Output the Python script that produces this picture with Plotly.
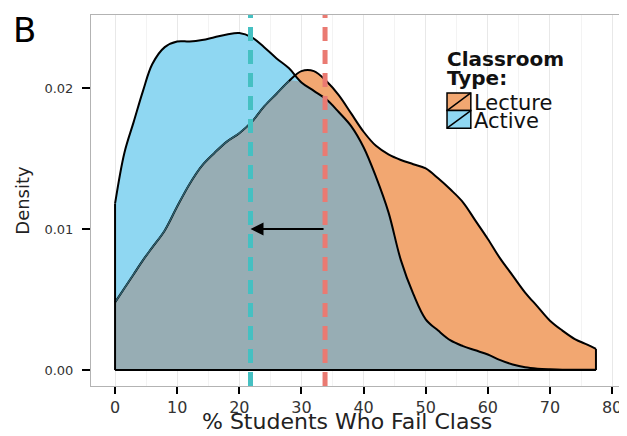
import numpy as np
import plotly.graph_objects as go

# ---- data ----
pct_fail = [0, 1.5, 3, 4.5, 6, 8, 10, 12, 14, 16, 18, 20, 22, 24, 26, 28, 30, 32, 34, 36,
            38, 40, 42, 44, 46, 48, 50, 52, 54, 56, 58, 60, 62, 64, 66, 68, 70, 72, 74, 76, 77.4]
density_lecture = [0.0048, 0.0058, 0.0068, 0.0078, 0.0087, 0.0099, 0.0116, 0.0132, 0.0145, 0.0154,
                   0.0162, 0.0168, 0.0176, 0.0187, 0.0196, 0.0205, 0.0212, 0.0212, 0.0205, 0.0195,
                   0.0182, 0.0169, 0.0159, 0.0153, 0.0149, 0.0146, 0.0143, 0.0136, 0.0128, 0.0119,
                   0.0106, 0.0093, 0.0079, 0.0067, 0.0055, 0.0045, 0.0035, 0.0028, 0.0022, 0.0018, 0.0015]
density_active = [0.0118, 0.0154, 0.0176, 0.0198, 0.0217, 0.0229, 0.0233, 0.0233, 0.0234, 0.0236,
                  0.0238, 0.0239, 0.0236, 0.0229, 0.0221, 0.0214, 0.0204, 0.0198, 0.0192, 0.0183,
                  0.0173, 0.0158, 0.0137, 0.0112, 0.0078, 0.0054, 0.0036, 0.0028, 0.0021, 0.0017,
                  0.0014, 0.0011, 0.0007, 0.0004, 0.0002, 0.0001, 0.00005, 0.00002, 0.00002, 0.00002, 0.00002]
mean_lecture = 33.8
mean_active = 21.8
arrow_y = 0.01
classroom_types = ["Lecture", "Active"]
legend_title_lines = ["Classroom", "Type:"]
x_ticks = [0, 10, 20, 30, 40, 50, 60, 70, 80]
y_ticks = [0.00, 0.01, 0.02]
y_tick_labels = ["0.00", "0.01", "0.02"]
x_title = "% Students Who Fail Class"
y_title = "Density"
panel_label = "B"

# ---- styling ----
ORANGE = "#f2a771"
BLUE = "#8fd7f2"
OVERLAP = "#97adb4"
TEAL = "#45c0c2"
SALMON = "#ea7a72"
FONT = "DejaVu Sans"

x = np.array(pct_fail)
lec = np.array(density_lecture)
act = np.array(density_active)
overlap = np.minimum(lec, act)

fig = go.Figure()


def add_line(xs, ys, color="black", width=2, shape="linear"):
    fig.add_trace(go.Scatter(x=xs, y=ys, mode="lines", line=dict(color=color, width=width, shape=shape),
                             showlegend=False, hoverinfo="skip"))


fig.add_trace(go.Scatter(x=x, y=lec, mode="lines", line=dict(width=0, shape="spline"),
                         fill="tozeroy", fillcolor=ORANGE, showlegend=False, hoverinfo="skip"))
fig.add_trace(go.Scatter(x=x, y=act, mode="lines", line=dict(width=0, shape="spline"),
                         fill="tozeroy", fillcolor=BLUE, showlegend=False, hoverinfo="skip"))
fig.add_trace(go.Scatter(x=x, y=overlap, mode="lines", line=dict(width=0, shape="spline"),
                         fill="tozeroy", fillcolor=OVERLAP, showlegend=False, hoverinfo="skip"))

# lecture outline (black where visible, dim under the active fill)
add_line(x, lec, shape="spline")
hidden = np.where(lec <= act + 0.0003, lec, np.nan)
add_line(x, hidden, color="#2f6473", width=1.4, shape="spline")
add_line([x[-1], x[-1]], [0, lec[-1]])
# active outline
add_line(x, act, shape="spline")
add_line([x[0], x[0]], [0, act[0]])
add_line([x[0], x[-1]], [0, 0])

# mean lines
for m, col in [(mean_active, TEAL), (mean_lecture, SALMON)]:
    fig.add_shape(type="line", xref="x", yref="paper", x0=m, x1=m, y0=0, y1=1,
                  line=dict(color=col, width=5, dash="14px,9px"), layer="above")

fig.add_annotation(x=mean_active, y=arrow_y, ax=mean_lecture, ay=arrow_y, xref="x", yref="y",
                   axref="x", ayref="y", showarrow=True, arrowhead=2, arrowsize=1.3,
                   arrowwidth=2, arrowcolor="black", text="")

# legend (drawn like the ggplot key)
for line_text, ypos in zip(legend_title_lines, [0.881, 0.829]):
    fig.add_annotation(text="<b>" + line_text + "</b>", xref="paper", yref="paper", x=0.669, y=ypos,
                       xanchor="left", yanchor="middle", showarrow=False,
                       font=dict(family=FONT, size=20, color="#111111"))
key_top = 0.790
key_h = 0.0475
for i, (name, col) in enumerate(zip(classroom_types, [ORANGE, BLUE])):
    y1 = key_top - i * key_h
    y0 = y1 - key_h
    fig.add_shape(type="rect", xref="paper", yref="paper", x0=0.673, x1=0.718, y0=y0, y1=y1,
                  fillcolor=col, line=dict(color="black", width=1.5))
    fig.add_shape(type="line", xref="paper", yref="paper", x0=0.673, x1=0.718, y0=y0, y1=y1,
                  line=dict(color="black", width=1.5))
    fig.add_annotation(text=name, xref="paper", yref="paper", x=0.72, y=(y0 + y1) / 2 - 0.004,
                       xanchor="left", yanchor="middle", showarrow=False,
                       font=dict(family=FONT, size=21, color="#111111"))

# axis titles and panel label
fig.add_annotation(text=x_title, xref="paper", yref="paper", x=0.484, y=-0.134, xanchor="center",
                   yanchor="bottom", showarrow=False, font=dict(family=FONT, size=22, color="#222222"))
fig.add_annotation(text=y_title, xref="paper", yref="paper", x=-0.13, y=0.5, xanchor="center",
                   yanchor="middle", textangle=-90, showarrow=False,
                   font=dict(family=FONT, size=18, color="#222222"))
fig.add_annotation(text=panel_label, xref="paper", yref="paper", x=-0.125, y=0.96, xanchor="center",
                   yanchor="middle", showarrow=False, font=dict(family=FONT, size=34, color="black"))

# the page body adds an 8px offset, so the figure is sized to keep the panel where the reference has it
fig.update_layout(
    width=619, height=428,
    margin=dict(l=83, r=7, t=7, b=50),
    paper_bgcolor="white", plot_bgcolor="white",
    font=dict(family=FONT, color="black"),
    showlegend=False,
    xaxis=dict(range=[-3.87, 81.27], tickvals=x_ticks, ticks="outside", ticklen=7, tickwidth=2,
               tickcolor="black", tickfont=dict(size=16, color="#333333"),
               showgrid=True, gridcolor="#e8e8e8", gridwidth=1,
               minor=dict(dtick=5, tick0=0, showgrid=True, gridcolor="#f3f3f3", ticks=""),
               showline=True, linecolor="#b3b3b3", linewidth=1, mirror=True, zeroline=False,
               automargin=False),
    yaxis=dict(range=[-0.00113, 0.02518], tickvals=y_ticks, ticktext=y_tick_labels, ticks="outside",
               ticklen=8, tickwidth=2, tickcolor="black", tickfont=dict(size=13, color="#333333"),
               ticklabelstandoff=6,
               showgrid=False, showline=True, linecolor="#b3b3b3", linewidth=1, mirror=True,
               zeroline=False, automargin=False),
)

fig.write_html("out.html")
